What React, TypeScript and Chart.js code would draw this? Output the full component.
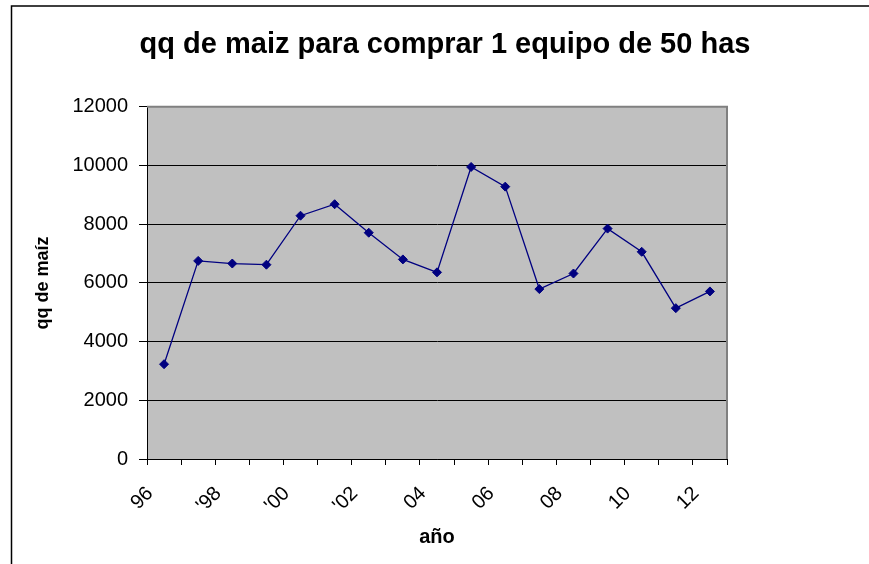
import React, { useEffect, useRef } from 'react';
import { Chart, registerables } from 'chart.js';

Chart.register(...registerables);

const categories = ['96', '97', "'98", "'99", "'00", "'01", "'02", "'03", '04', '05', '06', '07', '08', '09', '10', '11', '12'];
const values = [3230, 6750, 6660, 6620, 8290, 8680, 7710, 6800, 6360, 9950, 9280, 5790, 6320, 7850, 7060, 5140, 5710];
const yMin = 0;
const yMax = 12000;
const yStep = 2000;
const chartTitle = 'qq de maiz para comprar 1 equipo de 50 has';
const yTitle = 'qq de maíz';
const xTitle = 'año';

const FONT = "'Liberation Sans', Arial, sans-serif";

const framePlugin = {
  id: 'frame',
  beforeDraw(chart: any) {
    const { ctx, chartArea: a, width, height } = chart;
    ctx.save();
    ctx.fillStyle = '#ffffff';
    ctx.fillRect(0, 0, width, height);
    ctx.fillStyle = '#C0C0C0';
    ctx.fillRect(a.left, a.top, a.right - a.left, a.bottom - a.top);
    ctx.strokeStyle = '#000000';
    ctx.lineWidth = 1.5;
    ctx.beginPath();
    ctx.moveTo(11.5, height);
    ctx.lineTo(11.5, 6);
    ctx.lineTo(width, 6);
    ctx.stroke();
    ctx.restore();
  },
  beforeDatasetsDraw(chart: any) {
    const { ctx, chartArea: a } = chart;
    ctx.save();
    ctx.strokeStyle = '#808080';
    ctx.lineWidth = 2;
    ctx.beginPath();
    ctx.moveTo(a.left, a.top);
    ctx.lineTo(a.right, a.top);
    ctx.lineTo(a.right, a.bottom);
    ctx.stroke();
    ctx.restore();
  },
};

export default function App() {
  const ref = useRef<HTMLCanvasElement | null>(null);

  useEffect(() => {
    document.body.style.margin = '0';
    const canvas = ref.current;
    if (!canvas) return;
    const chart = new Chart(canvas, {
      type: 'line',
      data: {
        labels: categories,
        datasets: [
          {
            data: values,
            borderColor: '#000080',
            backgroundColor: '#000080',
            borderWidth: 1.3,
            pointStyle: 'rectRot',
            pointRadius: 4.5,
            pointBorderWidth: 1,
            pointBorderColor: '#000080',
            pointBackgroundColor: '#000080',
            tension: 0,
            fill: false,
          },
        ],
      },
      options: {
        responsive: false,
        animation: false,
        devicePixelRatio: 1,
        layout: { padding: { left: 21, right: 0, top: 0, bottom: 0 } },
        plugins: {
          legend: { display: false },
          tooltip: { enabled: false },
          title: {
            display: true,
            text: chartTitle,
            color: '#000000',
            font: { family: FONT, size: 29, weight: 'bold' },
            padding: { top: 28, bottom: 44 },
          },
        },
        scales: {
          x: {
            type: 'category',
            offset: true,
            afterFit: (s: any) => {
              s.height = 105;
            },
            grid: {
              display: true,
              drawOnChartArea: false,
              drawTicks: true,
              tickLength: 6,
              color: '#000000',
              offset: true,
            },
            border: { display: true, color: '#000000', width: 1 },
            ticks: {
              autoSkip: false,
              maxRotation: 45,
              minRotation: 45,
              padding: 17,
              labelOffset: -14,
              color: '#000000',
              font: { family: FONT, size: 20 },
              callback: (_v: any, i: number) => (i % 2 === 0 ? categories[i] : ''),
            },
            title: {
              display: true,
              text: xTitle,
              color: '#000000',
              font: { family: FONT, size: 20, weight: 'bold' },
              padding: { top: 15, bottom: 15 },
            },
          },
          y: {
            min: yMin,
            max: yMax,
            afterFit: (s: any) => {
              s.width = 126;
            },
            grid: {
              color: '#000000',
              lineWidth: 1,
              drawTicks: true,
              tickLength: 8,
            },
            border: { display: true, color: '#000000', width: 1 },
            ticks: {
              stepSize: yStep,
              padding: 11,
              color: '#000000',
              font: { family: FONT, size: 20 },
              callback: (v: any) => String(v),
            },
            title: {
              display: true,
              text: yTitle,
              color: '#000000',
              font: { family: FONT, size: 18, weight: 'bold' },
              padding: { top: 11, bottom: 11 },
            },
          },
          spacer: {
            type: 'linear',
            position: 'right',
            display: true,
            afterFit: (s: any) => {
              s.width = 142;
            },
            grid: { drawOnChartArea: false, drawTicks: false },
            border: { display: false },
            ticks: { display: false },
          },
        },
      },
      plugins: [framePlugin],
    } as any);
    return () => chart.destroy();
  }, []);

  return <canvas ref={ref} width={869} height={564} style={{ display: 'block' }} />;
}
